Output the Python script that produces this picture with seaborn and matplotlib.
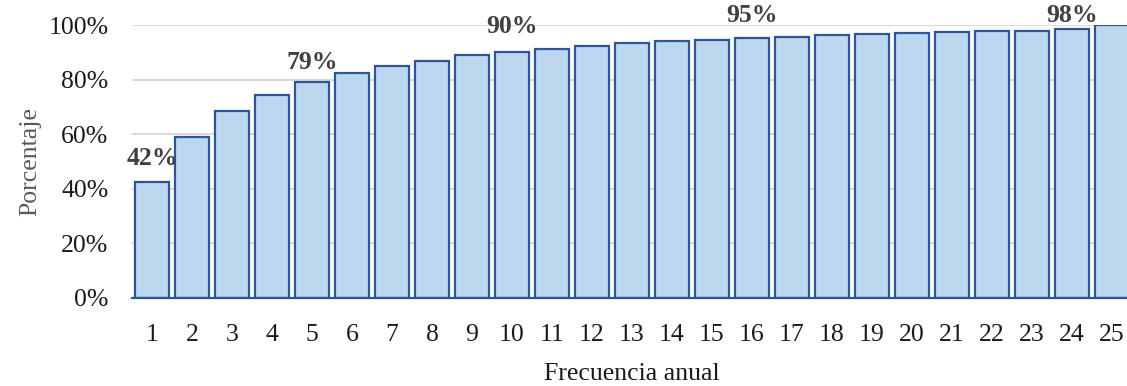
# Frecuencia anual acumulada - recreacion con seaborn
import numpy as np
import pandas as pd
import matplotlib
matplotlib.use("Agg")
import matplotlib.pyplot as plt
from matplotlib.ticker import PercentFormatter
import seaborn as sns

# ==========================================
# DATA
# ==========================================

frecuencia = [str(i) for i in range(1, 26)]

porcentaje = [
    0.424, 0.589, 0.684, 0.745, 0.791, 0.824, 0.850, 0.870, 0.889, 0.902,
    0.913, 0.923, 0.933, 0.940, 0.947, 0.951, 0.957, 0.963, 0.967, 0.971,
    0.974, 0.978, 0.980, 0.984, 1.000
]

# bars that carry a label and the label text
etiqueta_pos = [0, 4, 9, 15, 23]
etiqueta_txt = ["42%", "79%", "90%", "95%", "98%"]
# vertical offset of each label above its bar (points)
etiqueta_off = [9, 6, 10, 8, 1.5]

df = pd.DataFrame({"Frecuencia": frecuencia, "Porcentaje": porcentaje})

# ==========================================
# STYLE
# ==========================================

sns.set_style("whitegrid")
plt.rcParams["font.family"] = ["Liberation Serif", "DejaVu Serif"]

fill_color = "#bdd7ee"
edge_color = "#2f5597"
grid_color = "#d9d9d9"
fs = 18.5

fig = plt.figure(figsize=(11.27, 3.86), dpi=100)
ax = fig.add_axes([0.1171, 0.229, 0.8873, 0.706])

sns.barplot(
    data=df,
    x="Frecuencia",
    y="Porcentaje",
    color=fill_color,
    edgecolor=edge_color,
    linewidth=1.6,
    width=0.85,
    saturation=1,
    ax=ax
)

ax.set_ylim(0, 1.0)
ax.set_xlim(-0.5, len(frecuencia) - 0.5)
ax.set_yticks(np.arange(0, 1.01, 0.2))
ax.yaxis.set_major_formatter(PercentFormatter(1.0, decimals=0))

ax.grid(axis="y", color=grid_color, linewidth=1.4)
ax.grid(axis="x", visible=False)
ax.set_axisbelow(True)

for side in ["left", "right", "top"]:
    ax.spines[side].set_visible(False)
ax.spines["bottom"].set_color(edge_color)
ax.spines["bottom"].set_linewidth(1.6)

ax.tick_params(axis="y", length=0, pad=17, labelsize=fs, labelcolor="#1a1a1a")
ax.tick_params(axis="x", length=0, pad=19, labelsize=fs, labelcolor="#1a1a1a")

ax.set_xlabel("Frecuencia anual", fontsize=fs, color="#1a1a1a", labelpad=12)
ax.set_ylabel("Porcentaje", fontsize=fs, color="#595959", labelpad=5)

# ==========================================
# LABELS
# ==========================================

for pos, txt, off in zip(etiqueta_pos, etiqueta_txt, etiqueta_off):
    ax.annotate(
        txt,
        xy=(pos, porcentaje[pos]),
        xytext=(0, off),
        textcoords="offset points",
        ha="center",
        va="bottom",
        fontsize=fs,
        fontweight="bold",
        color="#404040",
        annotation_clip=False
    )

fig.savefig("out.png", dpi=100)
